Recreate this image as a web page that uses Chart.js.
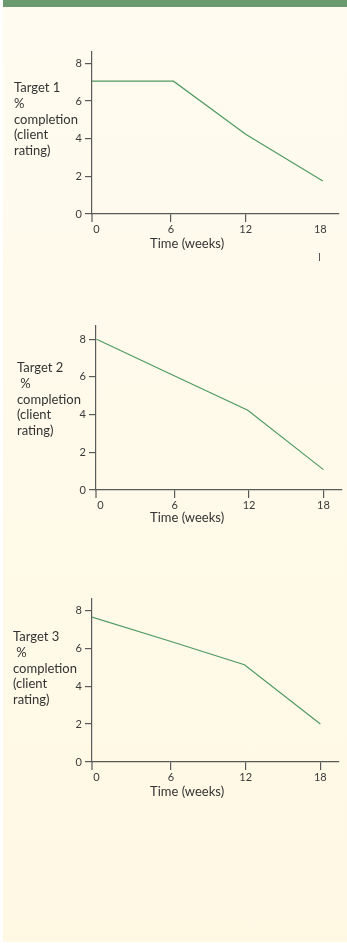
<!DOCTYPE html>
<html>
<head>
<meta charset="utf-8">
<script src="https://cdn.jsdelivr.net/npm/chart.js@4.4.0/dist/chart.umd.min.js"></script>
<style>
  html, body { margin: 0; padding: 0; background: #ffffff; }
  body { width: 347px; height: 944px; position: relative; overflow: hidden; font-family: Lato, "Noto Sans", sans-serif; }
  .panel { position: absolute; left: 3px; top: 0; width: 344px; height: 942px; background: linear-gradient(#fffbf0, #fff8e3); }
  .bar { position: absolute; left: 3px; top: 0; width: 344px; height: 7px; background: #6a9a6e; }
  canvas { position: absolute; left: 0; }
  .ylab { position: absolute; font-size: 13px; line-height: 15.8px; color: #333; white-space: pre; }
  .xlab { position: absolute; font-size: 13px; color: #333; white-space: nowrap; }
  .stray { position: absolute; width: 1px; height: 8px; background: #555; }
</style>
</head>
<body>
<div class="panel"></div>
<div class="bar"></div>

<canvas id="chart1" width="347" height="198" style="top:40px"></canvas>
<canvas id="chart2" width="347" height="200" style="top:314px"></canvas>
<canvas id="chart3" width="347" height="199" style="top:587px"></canvas>

<div class="ylab" style="left:14px; top:80px">Target 1
%
completion
(client
rating)</div>
<div class="ylab" style="left:17px; top:360px">Target 2
 %
completion
(client
rating)</div>
<div class="ylab" style="left:13px; top:629px">Target 3
 %
completion
(client
rating)</div>

<div class="xlab" style="left:150px; top:235px">Time (weeks)</div>
<div class="xlab" style="left:150px; top:509px">Time (weeks)</div>
<div class="xlab" style="left:150px; top:783px">Time (weeks)</div>
<div class="stray" style="left:319px; top:253px"></div>

<script>
// tick labels
const xTicks = [0, 6, 12, 18];
const yTicks = [0, 2, 4, 6, 8];

// Target 1
const weeks1 = [-0.35, 6.2, 12, 18.2];
const rating1 = [7.05, 7.05, 4.23, 1.75];
// Target 2
const weeks2 = [-0.3, 6, 11.9, 18];
const rating2 = [8.0, 6.05, 4.23, 1.08];
// Target 3
const weeks3 = [-0.35, 6, 11.9, 18];
const rating3 = [7.65, 6.36, 5.13, 2.0];

const lineColor = '#4f9a62';
const axisColor = '#5a5a5a';
const tickFont = { family: 'Lato, "Noto Sans", sans-serif', size: 11 };

// y axis runs a little below the x axis
const axisExtend = {
    id: 'axisExtend',
    afterDraw(chart) {
        const ctx = chart.ctx;
        const a = chart.chartArea;
        ctx.save();
        ctx.strokeStyle = axisColor;
        ctx.lineWidth = 1.2;
        ctx.beginPath();
        ctx.moveTo(a.left, a.bottom);
        ctx.lineTo(a.left, a.bottom + 8);
        ctx.stroke();
        ctx.restore();
    }
};

function makeChart(id, weeks, values, opt) {
    return new Chart(document.getElementById(id), {
        type: 'line',
        data: {
            datasets: [{
                data: weeks.map((w, i) => ({ x: w, y: values[i] })),
                borderColor: lineColor,
                borderWidth: 1.2,
                pointRadius: 0,
                tension: 0,
                fill: false
            }]
        },
        options: {
            responsive: false,
            animation: false,
            layout: { padding: { top: 12, right: opt.right, left: 0, bottom: 0 } },
            plugins: { legend: { display: false }, tooltip: { enabled: false } },
            scales: {
                x: {
                    type: 'linear',
                    min: -0.35,
                    max: 19.5,
                    afterBuildTicks: s => { s.ticks = xTicks.map(v => ({ value: v })); },
                    afterFit: s => { s.height = 24; },
                    border: { color: axisColor, width: 1.2 },
                    grid: {
                        drawOnChartArea: false,
                        tickLength: 8,
                        lineWidth: 1.2,
                        color: c => opt.xMarks.includes(c.tick.value) ? axisColor : 'rgba(0,0,0,0)'
                    },
                    ticks: { padding: 1, color: '#3a3a3a', font: tickFont, maxRotation: 0 }
                },
                y: {
                    min: 0,
                    max: opt.yMax,
                    afterBuildTicks: s => { s.ticks = yTicks.map(v => ({ value: v })); },
                    afterFit: s => { s.width = opt.left; },
                    border: { color: axisColor, width: 1.2 },
                    grid: { drawOnChartArea: false, tickLength: 7, lineWidth: 1.2, color: axisColor },
                    ticks: { padding: 3, color: '#3a3a3a', font: tickFont }
                }
            }
        },
        plugins: [axisExtend]
    });
}

makeChart('chart1', weeks1, rating1, { left: 92, right: 8, yMax: 8.6, xMarks: [6, 12] });
makeChart('chart2', weeks2, rating2, { left: 96, right: 5, yMax: 8.7, xMarks: [6, 12, 18] });
makeChart('chart3', weeks3, rating3, { left: 92, right: 8, yMax: 8.6, xMarks: [6, 12, 18] });
</script>
</body>
</html>
